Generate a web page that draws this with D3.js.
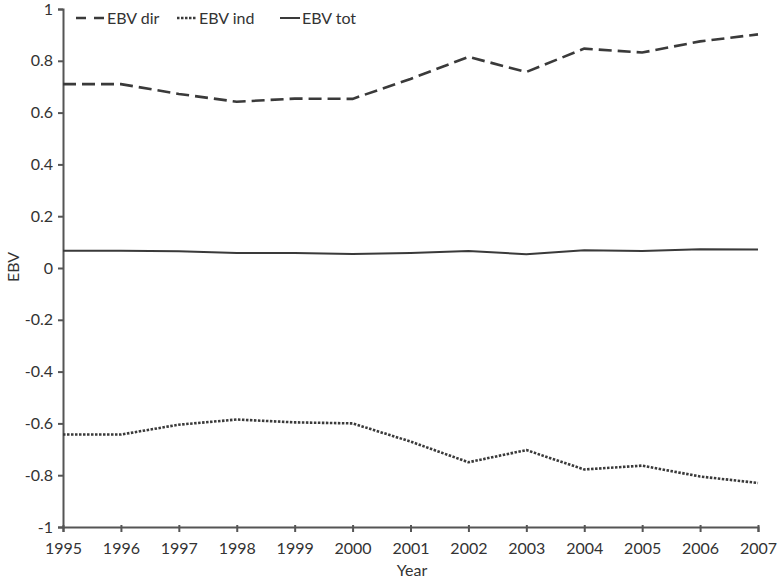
<!DOCTYPE html>
<head>
  <meta charset="utf-8">
  <title>EBV</title>
  <style>
    body {margin: 0; background: #fff; font-family: Lato, sans-serif;}
    .axis path, .axis line {fill: none; stroke: #555; stroke-width: 2;}
    .axis text {font: 16px Lato, sans-serif; fill: #333;}
    .line {fill: none;}
  </style>
</head>
<body>
  <svg width="779" height="581"></svg>
  <script src="https://cdn.jsdelivr.net/npm/d3@7"></script>
  <script>
    // data
    var years = [1995, 1996, 1997, 1998, 1999, 2000, 2001, 2002, 2003, 2004, 2005, 2006, 2007];
    var ebvDir = [0.71, 0.71, 0.672, 0.642, 0.654, 0.653, 0.73, 0.815, 0.757, 0.847, 0.832, 0.875, 0.902];
    var ebvInd = [-0.643, -0.643, -0.605, -0.585, -0.596, -0.6, -0.67, -0.75, -0.703, -0.778, -0.763, -0.805, -0.83];
    var ebvTot = [0.067, 0.067, 0.065, 0.058, 0.058, 0.054, 0.058, 0.066, 0.053, 0.069, 0.066, 0.072, 0.071];
    var yTicks = [-1, -0.8, -0.6, -0.4, -0.2, 0, 0.2, 0.4, 0.6, 0.8, 1];
    var seriesNames = ["EBV dir", "EBV ind", "EBV tot"];

    var svg = d3.select("svg");

    var x = d3.scaleLinear().domain([1995, 2007]).range([63, 758]),
        y = d3.scaleLinear().domain([-1, 1]).range([527, 9]);

    var series = [
      {id: seriesNames[0], values: ebvDir, dash: "13,6", width: 2.6},
      {id: seriesNames[1], values: ebvInd, dash: "2.5,1.5", width: 2.6},
      {id: seriesNames[2], values: ebvTot, dash: null, width: 2}
    ];

    // axes
    var xAxis = svg.append("g")
        .attr("class", "axis")
        .attr("transform", "translate(0,527)")
        .call(d3.axisBottom(x).tickValues(years).tickFormat(d3.format("d")).tickSizeOuter(0).tickSize(5).tickPadding(8));
    xAxis.selectAll(".tick line").attr("y1", -2);
    xAxis.selectAll("text").attr("dy", "0.9em");

    // plain hyphen for negatives, like the original
    svg.append("g")
        .attr("class", "axis")
        .attr("transform", "translate(63,0)")
        .call(d3.axisLeft(y).tickValues(yTicks).tickFormat(function(d) { return String(+d.toFixed(1)); }).tickSizeOuter(0).tickSize(5).tickPadding(5));

    svg.append("text")
        .attr("x", 412).attr("y", 576)
        .attr("text-anchor", "middle")
        .style("font", "16px Lato, sans-serif").style("fill", "#333")
        .text("Year");

    svg.append("text")
        .attr("transform", "translate(19,267) rotate(-90)")
        .attr("text-anchor", "middle")
        .style("font", "16px Lato, sans-serif").style("fill", "#333")
        .text("EBV");

    // lines
    var line = d3.line()
        .x(function(d, i) { return x(years[i]); })
        .y(function(d) { return y(d); });

    svg.selectAll(".line")
        .data(series)
      .enter().append("path")
        .attr("class", "line")
        .attr("d", function(d) { return line(d.values); })
        .style("stroke", "#3a3a3a")
        .style("stroke-width", function(d) { return d.width; })
        .style("stroke-dasharray", function(d) { return d.dash; });

    // legend
    var legendX = [76, 177, 280];
    var legend = svg.selectAll(".legend")
        .data(series)
      .enter().append("g")
        .attr("class", "legend")
        .attr("transform", function(d, i) { return "translate(" + legendX[i] + ",18)"; });

    legend.append("line")
        .attr("x1", 0)
        .attr("x2", function(d, i) { return i === 0 ? 30 : 20; })
        .style("stroke", "#3a3a3a")
        .style("stroke-width", function(d) { return d.width; })
        .style("stroke-dasharray", function(d, i) { return i === 0 ? "10,8" : d.dash; });

    legend.append("text")
        .attr("x", function(d, i) { return i === 0 ? 31 : 22; })
        .attr("dy", "0.35em")
        .style("font", "16px Lato, sans-serif").style("fill", "#333")
        .text(function(d) { return d.id; });
  </script>
</body>
